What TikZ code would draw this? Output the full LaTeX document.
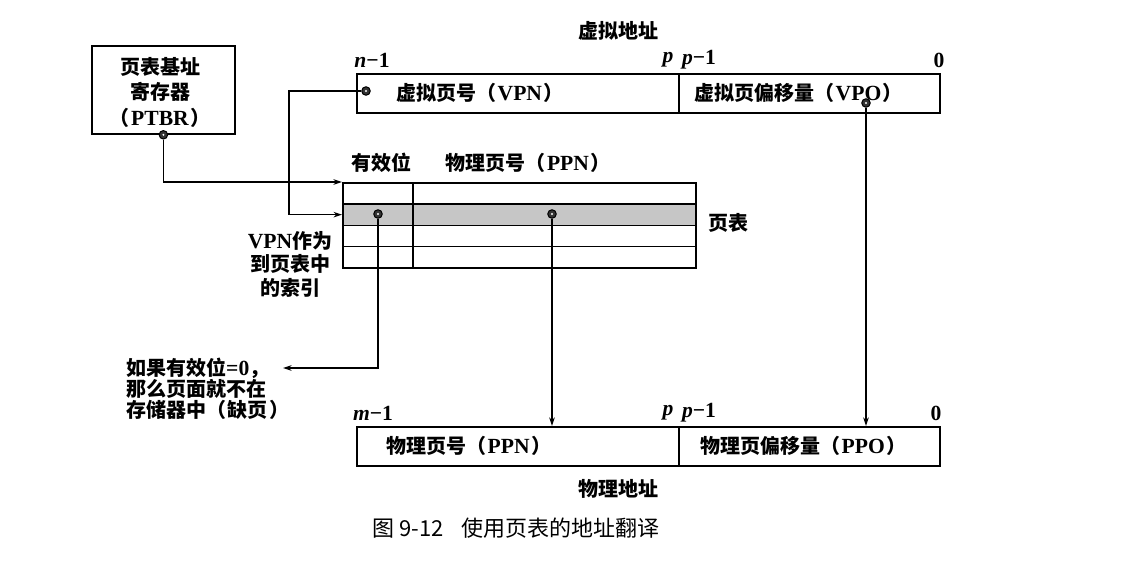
\documentclass[tikz,border=0pt]{standalone}
\usepackage{fontspec}
\setmainfont{Liberation Serif}[Scale=1.08]
\newfontfamily\cjk{Noto Sans CJK SC}
\newcommand{\zh}[1]{{\cjk #1}}
\newcommand{\lp}{\zh{（}\kern1.5pt}
\newcommand{\rp}{\kern1.5pt\zh{）}}
\usetikzlibrary{arrows.meta}
\begin{document}
\begin{tikzpicture}[x=1pt,y=-1pt,
  lbl/.style={inner sep=0pt, font=\fontsize{20}{24}\selectfont\bfseries},
  cell/.style={draw, line width=1.8pt, minimum height=39pt, inner sep=0pt, anchor=north west},
  tcell/.style={draw, line width=1.6pt, inner sep=0pt, anchor=north west, minimum height=21.25pt},
  shaded/.style={fill=gray!45},
  dotc/.style={circle, draw, line width=1pt, fill=black!80, minimum size=8.5pt, inner sep=0pt,
    path picture={\fill[white] (path picture bounding box.center) circle (1.1pt);}},
  arr/.style={line width=1.1pt, -{Stealth[length=8.5pt,width=5.5pt]}}]
\useasboundingbox (0,0) rectangle (1124,564);

% PTBR register
\node[cell, minimum width=143pt, minimum height=88pt] (ptbr) at (91,45) {};
\node[lbl, align=center, font=\fontsize{20}{25.5}\selectfont\bfseries] (ptbrt) at (160,92)
  {\zh{页表基址}\\\zh{寄存器}\\\lp PTBR\rp};

% virtual address
\node[lbl] (va) at (618,31) {\zh{虚拟地址}};
\node[cell, minimum width=322pt] (vpn) at (356,73) {};
\node[cell, minimum width=261pt] (vpo) at (678,73) {};
\node[lbl, anchor=west] (vpnt) at (396,93) {\zh{虚拟页号}\lp VPN\rp};
\node[lbl, anchor=west] (vpot) at (694,93) {\zh{虚拟页偏移量}\lp VPO\rp};
\node[lbl] (vn1) at (372,60) {\textit{n}−1};
\node[lbl] (vp) at (668,60) {\textit{p}};
\node[lbl] (vp1) at (699,60) {\textit{p}−1};
\node[lbl] (v0) at (939,60) {0};

% page table
\node[lbl] (hv) at (381,163) {\zh{有效位}};
\node[lbl] (hp) at (528,163) {\zh{物理页号}\lp PPN\rp};
\node[tcell, minimum width=70pt] (v1) at (342,182) {};
\node[tcell, minimum width=283pt] (p1) at (412,182) {};
\node[tcell, shaded, minimum width=70pt] (v2) at (342,203.25) {};
\node[tcell, shaded, minimum width=283pt] (p2) at (412,203.25) {};
\node[tcell, minimum width=70pt] (v3) at (342,224.5) {};
\node[tcell, minimum width=283pt] (p3) at (412,224.5) {};
\node[tcell, minimum width=70pt] (v4) at (342,245.75) {};
\node[tcell, minimum width=283pt] (p4) at (412,245.75) {};
\node[lbl] (pt) at (728,223) {\zh{页表}};
\node[lbl, align=center, font=\fontsize{20}{23.5}\selectfont\bfseries] (idx) at (290,264)
  {VPN\zh{作为}\\\zh{到页表中}\\\zh{的索引}};

% fault note
\node[lbl, align=left, anchor=west, font=\fontsize{20}{21}\selectfont\bfseries] (fnote) at (126,389)
  {\zh{如果有效位}=0\zh{，}\\\zh{那么页面就不在}\\\zh{存储器中}\lp\zh{缺页}\rp};

% physical address
\node[cell, minimum width=322pt] (ppn) at (356,426) {};
\node[cell, minimum width=261pt] (ppo) at (678,426) {};
\node[lbl, anchor=west] (ppnt) at (386,446) {\zh{物理页号}\lp PPN\rp};
\node[lbl, anchor=west] (ppot) at (700,446) {\zh{物理页偏移量}\lp PPO\rp};
\node[lbl] (pm1) at (373,413) {\textit{m}−1};
\node[lbl] (pp) at (668,413) {\textit{p}};
\node[lbl] (pp1) at (699,413) {\textit{p}−1};
\node[lbl] (p0) at (936,413) {0};
\node[lbl] (pa) at (618,489) {\zh{物理地址}};

% caption
\node[inner sep=0pt, font=\fontsize{22}{26}\selectfont] (cap) at (516,528)
  {\zh{图 9-12\hspace{0.8em}使用页表的地址翻译}};

% dots
\node[dotc] (ptbrd) at (ptbr.south) {};
\node[dotc] (vpnd) at (366,91) {};
\node[dotc] (vpod) at (866,103) {};
\node[dotc] (vd) at (378,214) {};
\node[dotc] (pd) at (552,214) {};
\coordinate (vturn) at (289,91);
\coordinate (fault) at (283,368);

% connectors
\draw[arr] (ptbrd) |- (v1.north west);
\draw[arr] (vpnd) -- (vturn) |- (v2.west);
\draw[arr] (vd) |- (fault);
\draw[arr] (pd) -- (pd |- ppn.north);
\draw[arr] (vpod) -- (vpod |- ppo.north);
\end{tikzpicture}
\end{document}
